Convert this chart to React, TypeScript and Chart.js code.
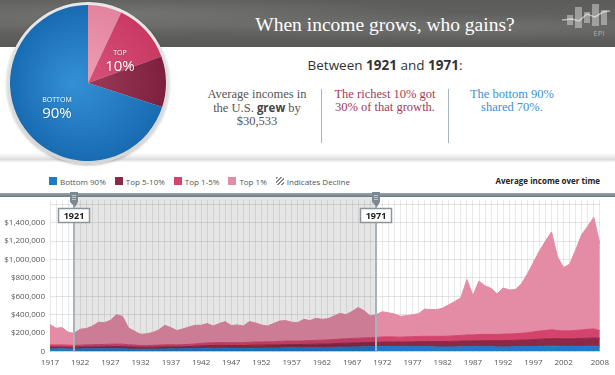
import React, { useEffect, useRef } from "react";
import { Chart, registerables } from "chart.js";

Chart.register(...registerables);

// ---------- DATA (average income, thousands of dollars, stacked bands) ----------
const years: number[] = Array.from({ length: 92 }, (_, i) => 1917 + i); // 1917..2008

const bottom90 = [
  28, 28, 29, 28, 27, 28, 29, 29, 29, 30,
  30, 30, 30, 28, 27, 25, 25, 26, 27, 28,
  29, 28, 29, 30, 32, 34, 36, 37, 37, 36,
  35, 35, 35, 36, 37, 37, 38, 38, 39, 40,
  40, 40, 41, 41, 42, 43, 44, 45, 47, 48,
  49, 50, 51, 51, 52, 54, 55, 53, 51, 52,
  52, 53, 52, 51, 50, 49, 49, 50, 51, 51,
  52, 52, 52, 51, 50, 50, 50, 51, 52, 53,
  54, 56, 57, 58, 57, 56, 55, 56, 56, 57,
  58, 56,
];

const top5to10 = [
  22, 22, 22, 21, 20, 21, 22, 22, 23, 23,
  24, 24, 24, 23, 22, 21, 20, 21, 22, 23,
  23, 23, 23, 24, 25, 27, 28, 29, 30, 30,
  30, 30, 30, 31, 32, 32, 33, 33, 34, 35,
  35, 35, 36, 37, 38, 38, 39, 40, 41, 42,
  43, 44, 45, 46, 48, 49, 50, 51, 52, 53,
  54, 55, 56, 57, 58, 59, 60, 61, 62, 63,
  64, 65, 66, 67, 68, 69, 70, 71, 72, 74,
  76, 78, 80, 82, 83, 83, 83, 84, 86, 88,
  90, 88,
];

const top1to5 = [
  22, 21, 21, 20, 19, 20, 21, 22, 24, 24,
  25, 27, 26, 23, 21, 19, 19, 20, 21, 22,
  22, 21, 22, 23, 25, 27, 28, 29, 30, 31,
  31, 31, 31, 33, 34, 34, 35, 35, 37, 38,
  38, 38, 39, 40, 41, 42, 43, 45, 47, 48,
  49, 51, 52, 52, 53, 55, 55, 54, 53, 54,
  55, 56, 57, 57, 57, 57, 58, 60, 62, 66,
  64, 68, 68, 68, 67, 70, 70, 71, 74, 78,
  83, 88, 92, 96, 88, 85, 86, 89, 93, 96,
  98, 82,
];

const top1 = [
  221, 182, 188, 141, 133, 173, 178, 202, 242, 237,
  260, 319, 302, 182, 150, 120, 128, 140, 165, 212,
  186, 156, 172, 190, 203, 197, 212, 183, 207, 228,
  186, 193, 182, 225, 208, 186, 172, 198, 222, 223,
  205, 201, 234, 218, 240, 227, 231, 256, 280, 262,
  295, 334, 295, 237, 247, 275, 262, 250, 227, 231,
  239, 247, 296, 291, 291, 307, 341, 373, 409, 604,
  428, 582, 527, 501, 442, 502, 480, 480, 536, 637,
  754, 871, 972, 1065, 800, 689, 726, 875, 1038, 1121,
  1213, 946,
];

const tickYears = [1917, 1922, 1927, 1932, 1937, 1942, 1947, 1952, 1957, 1962, 1967, 1972, 1977, 1982, 1987, 1992, 1997, 2002, 2008];
const yTickValues = [0, 200000, 400000, 600000, 800000, 1000000, 1200000, 1400000, 1600000];
const yLabelMax = 1400000;
const markerYears = [1921, 1971];

const pieLabels = ["Top 1%", "Top 1-5%", "Top 5-10%", "Bottom 90%"];
const pieShares = [7, 12.5, 10.5, 70];

const COLORS = {
  bottom90: "#1f7bc6",
  top5to10: "#8c2947",
  top1to5: "#d4436c",
  top1: "#e48ba5",
};

const legendItems = [
  { label: "Bottom 90%", color: COLORS.bottom90 },
  { label: "Top 5-10%", color: COLORS.top5to10 },
  { label: "Top 1-5%", color: COLORS.top1to5 },
  { label: "Top 1%", color: COLORS.top1 },
];

const SANS = "'Open Sans', 'Noto Sans', sans-serif";
const SERIF = "'Liberation Serif', 'DejaVu Serif', serif";

// ---------- plugin: shaded period, slider bar, markers ----------
const overlayPlugin = {
  id: "periodOverlay",
  afterDatasetsDraw(chart: any) {
    const { ctx, chartArea, scales } = chart;
    const x = scales.x;
    const x1 = x.getPixelForValue(years.indexOf(markerYears[0]));
    const x2 = x.getPixelForValue(years.indexOf(markerYears[1]));
    ctx.save();
    ctx.fillStyle = "rgba(0,0,0,0.1)";
    ctx.fillRect(x1, 7, x2 - x1, chartArea.bottom - 7);
    ctx.restore();
  },
  afterDraw(chart: any) {
    const { ctx, chartArea, scales, width } = chart;
    const x = scales.x;
    ctx.save();
    const g = ctx.createLinearGradient(0, 3, 0, 7);
    g.addColorStop(0, "#9aa6ad");
    g.addColorStop(1, "#6c7981");
    ctx.fillStyle = g;
    ctx.fillRect(0, 3, width, 4);
    markerYears.forEach((yr) => {
      const px = Math.round(x.getPixelForValue(years.indexOf(yr)));
      ctx.fillStyle = "#a9b2b8";
      ctx.fillRect(px - 1, 7, 2, chartArea.bottom - 7);
      ctx.fillStyle = "#7d8990";
      ctx.beginPath();
      ctx.moveTo(px - 4, 2);
      ctx.lineTo(px + 4, 2);
      ctx.lineTo(px + 4, 12);
      ctx.lineTo(px + 1, 17);
      ctx.lineTo(px - 4, 12);
      ctx.closePath();
      ctx.fill();
      ctx.strokeStyle = "rgba(255,255,255,0.5)";
      ctx.lineWidth = 1;
      for (let i = 0; i < 3; i++) {
        ctx.beginPath();
        ctx.moveTo(px - 2, 5.5 + i * 2);
        ctx.lineTo(px + 2, 5.5 + i * 2);
        ctx.stroke();
      }
      const bx = px - 15.5;
      const by = 18.5;
      ctx.fillStyle = "#ffffff";
      ctx.fillRect(bx, by, 31, 14);
      ctx.strokeStyle = "#8a959c";
      ctx.lineWidth = 1.5;
      ctx.strokeRect(bx, by, 31, 14);
      ctx.fillStyle = "#1a1a1a";
      ctx.font = `bold 9px ${SANS}`;
      ctx.textAlign = "center";
      ctx.textBaseline = "middle";
      ctx.fillText(String(yr), px, by + 7.5);
    });
    ctx.restore();
  },
};

function AreaChart() {
  const ref = useRef<HTMLCanvasElement>(null);
  useEffect(() => {
    const mk = (label: string, arr: number[], color: string, fill: any) => ({
      label,
      data: arr.map((v) => v * 1000),
      backgroundColor: color,
      borderColor: color,
      borderWidth: 1,
      pointRadius: 0,
      fill,
      tension: 0,
    });
    const chart = new Chart(ref.current as HTMLCanvasElement, {
      type: "line",
      data: {
        labels: years.map(String),
        datasets: [
          mk("Bottom 90%", bottom90, COLORS.bottom90, "origin"),
          mk("Top 5-10%", top5to10, COLORS.top5to10, "-1"),
          mk("Top 1-5%", top1to5, COLORS.top1to5, "-1"),
          mk("Top 1%", top1, COLORS.top1, "-1"),
        ] as any,
      },
      options: {
        animation: false,
        responsive: false,
        devicePixelRatio: 1,
        layout: { padding: { top: 8, right: 15, left: 0, bottom: 0 } },
        plugins: { legend: { display: false }, tooltip: { enabled: false } },
        scales: {
          x: {
            z: 1,
            offset: false,
            grid: { color: "rgba(0,0,0,0.085)", drawTicks: false },
            border: { display: false },
            ticks: {
              autoSkip: false,
              maxRotation: 0,
              minRotation: 0,
              padding: 6,
              color: "#555",
              font: { size: 8, family: SANS },
              callback: (_v: any, i: number) => (tickYears.includes(years[i]) ? String(years[i]) : ""),
            },
            afterFit: (s: any) => {
              s.height = 23.5;
            },
          },
          y: {
            z: 1,
            stacked: true,
            min: 0,
            max: 1650000,
            grid: { color: "rgba(0,0,0,0.1)", drawTicks: false },
            border: { display: false },
            afterBuildTicks: (s: any) => {
              s.ticks = yTickValues.map((v) => ({ value: v }));
            },
            ticks: {
              padding: 5,
              color: "#555",
              font: { size: 8, family: SANS },
              callback: (v: any) => {
                const n = Number(v);
                if (n === 0) return "0";
                if (n > yLabelMax) return "";
                return "$" + n.toLocaleString("en-US");
              },
            },
            afterFit: (s: any) => {
              s.width = 50;
            },
          },
        },
      } as any,
      plugins: [overlayPlugin],
    });
    return () => chart.destroy();
  }, []);
  return (
    <canvas
      ref={ref}
      width={615}
      height={185}
      style={{ position: "absolute", left: 0, top: 190, width: 615, height: 185 }}
    />
  );
}

function PieChart() {
  const ref = useRef<HTMLCanvasElement>(null);
  useEffect(() => {
    const base = ["#e98ea8", "#d2436c", "#8e2a49", "#1f79c3"];
    const inner = ["#eea0b6", "#d9557c", "#a23f5e", "#3590d4"];
    const outer = ["#e4839f", "#c93a63", "#7d203e", "#186bb1"];
    const chart = new Chart(ref.current as HTMLCanvasElement, {
      type: "pie",
      data: {
        labels: pieLabels,
        datasets: [
          {
            data: pieShares,
            borderWidth: 0,
            backgroundColor: (c: any) => {
              const ch = c.chart;
              const a = ch.chartArea;
              const i = c.dataIndex;
              if (!a) return base[i];
              const cx = (a.left + a.right) / 2;
              const cy = (a.top + a.bottom) / 2;
              const r = Math.min(a.right - a.left, a.bottom - a.top) / 2;
              const g = ch.ctx.createRadialGradient(cx - r * 0.2, cy, 0, cx, cy, r);
              g.addColorStop(0, inner[i]);
              g.addColorStop(1, outer[i]);
              return g;
            },
          },
        ],
      },
      options: {
        animation: false,
        responsive: false,
        devicePixelRatio: 1,
        layout: { padding: 0 },
        plugins: { legend: { display: false }, tooltip: { enabled: false } },
      } as any,
    });
    return () => chart.destroy();
  }, []);
  return (
    <div
      style={{
        position: "absolute",
        left: 7,
        top: 2,
        width: 162,
        height: 162,
        borderRadius: "50%",
        background: "linear-gradient(180deg, #e8e8e8, #d4d4d4)",
        boxShadow: "0 1px 3px rgba(0,0,0,0.3)",
      }}
    >
      <canvas ref={ref} width={156} height={156} style={{ position: "absolute", left: 3, top: 3, width: 156, height: 156 }} />
    </div>
  );
}

function Label({ x, y, size, children }: { x: number; y: number; size: number; children: React.ReactNode }) {
  return (
    <div
      style={{
        position: "absolute",
        left: x,
        top: y,
        transform: "translate(-50%, -50%)",
        color: "#fff",
        fontFamily: SANS,
        fontSize: size,
        lineHeight: 1,
        whiteSpace: "nowrap",
        textShadow: "0 0 2px rgba(0,0,0,0.25)",
      }}
    >
      {children}
    </div>
  );
}

function Logo() {
  return (
    <svg width={50} height={40} style={{ position: "absolute", left: 562, top: 2 }}>
      <g fill="rgba(255,255,255,0.38)">
        <rect x={5} y={13} width={6} height={10} />
        <rect x={13} y={5} width={7} height={21} />
        <rect x={22} y={10} width={6} height={11} />
        <rect x={30} y={2} width={7} height={22} />
        <rect x={39} y={8} width={6} height={15} />
      </g>
      <polyline points="0,18 10,17 17,19 25,12 33,15 41,10 48,9" fill="none" stroke="rgba(255,255,255,0.55)" strokeWidth={1.5} />
      <text x={37} y={34} textAnchor="middle" fontFamily={SANS} fontSize={8} fill="rgba(255,255,255,0.45)">
        EPI
      </text>
    </svg>
  );
}

export default function App() {
  const colBase: React.CSSProperties = {
    position: "absolute",
    top: 88,
    width: 124,
    textAlign: "center",
    fontFamily: SERIF,
    fontSize: 12.5,
    lineHeight: "13px",
  };
  return (
    <div
      style={{
        position: "fixed",
        left: 0,
        top: 0,
        width: 615,
        height: 375,
        overflow: "hidden",
        background: "#fff",
      }}
    >
      <div
        style={{
          position: "absolute",
          left: 0,
          top: 0,
          width: 615,
          height: 47,
          background:
            "radial-gradient(ellipse at 20% 30%, rgba(255,255,255,0.12), transparent 45%), radial-gradient(ellipse at 75% 60%, rgba(255,255,255,0.08), transparent 40%), linear-gradient(180deg, #5c5c5a 0%, #646462 55%, #585856 100%)",
        }}
      />
      <div
        style={{
          position: "absolute",
          left: 230,
          top: 14,
          width: 310,
          textAlign: "center",
          color: "#fff",
          fontFamily: SERIF,
          fontSize: 19.5,
          lineHeight: "22px",
          whiteSpace: "nowrap",
        }}
      >
        When income grows, who gains?
      </div>
      <Logo />

      <div
        style={{
          position: "absolute",
          left: 0,
          top: 153,
          width: 615,
          height: 9,
          background: "linear-gradient(180deg, #ffffff 0%, #e6e6e6 55%, #dcdcdc 70%, #f6f6f6 100%)",
        }}
      />

      <div
        style={{
          position: "absolute",
          left: 235,
          top: 56,
          width: 300,
          textAlign: "center",
          color: "#333",
          fontFamily: SANS,
          fontSize: 13.5,
          lineHeight: "18px",
          whiteSpace: "nowrap",
        }}
      >
        Between <b>1921</b> and <b>1971</b>:
      </div>

      <div style={{ ...colBase, left: 195, color: "#555" }}>
        Average incomes in
        <br />
        the U.S. <b style={{ fontFamily: SANS, fontSize: 11.5, color: "#444" }}>grew</b> by
        <br />
        $30,533
      </div>
      <div style={{ position: "absolute", left: 321, top: 89, width: 1, height: 54, background: "#aab4bc" }} />
      <div style={{ ...colBase, left: 323, color: "#a33a57" }}>
        The richest 10% got
        <br />
        30% of that growth.
      </div>
      <div style={{ position: "absolute", left: 448, top: 89, width: 1, height: 54, background: "#aab4bc" }} />
      <div style={{ ...colBase, left: 450, color: "#3d8fd1" }}>
        The bottom 90%
        <br />
        shared 70%.
      </div>

      <div
        style={{
          position: "absolute",
          left: 49,
          top: 175,
          height: 12,
          display: "flex",
          alignItems: "center",
          fontFamily: SANS,
          fontSize: 8,
          color: "#555",
          whiteSpace: "nowrap",
        }}
      >
        {legendItems.map((it) => (
          <div key={it.label} style={{ display: "flex", alignItems: "center", marginRight: 9 }}>
            <span style={{ display: "inline-block", width: 8, height: 8, background: it.color, marginRight: 3 }} />
            <span>{it.label}</span>
          </div>
        ))}
        <div style={{ display: "flex", alignItems: "center" }}>
          <span
            style={{
              display: "inline-block",
              width: 8,
              height: 8,
              marginRight: 3,
              background: "repeating-linear-gradient(135deg, #8a8a8a 0 1.5px, #fff 1.5px 3px)",
            }}
          />
          <span>Indicates Decline</span>
        </div>
      </div>
      <div
        style={{
          position: "absolute",
          right: 15,
          top: 175,
          height: 12,
          lineHeight: "12px",
          fontFamily: SANS,
          fontSize: 8,
          fontWeight: 700,
          color: "#222",
          whiteSpace: "nowrap",
        }}
      >
        Average income over time
      </div>

      <AreaChart />

      <PieChart />
      <Label x={120} y={52} size={7}>TOP</Label>
      <Label x={120} y={65} size={15}>10%</Label>
      <Label x={57} y={99} size={7}>BOTTOM</Label>
      <Label x={57} y={112} size={15}>90%</Label>
    </div>
  );
}
